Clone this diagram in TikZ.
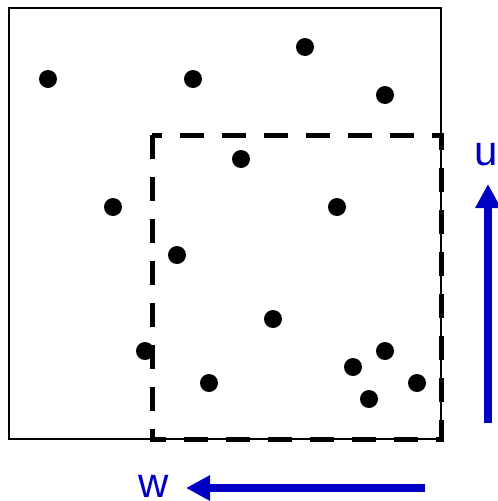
\documentclass[tikz,border=0pt]{standalone}
\usepackage{fontspec}
\setmainfont{Liberation Sans}
\usetikzlibrary{arrows.meta}
\definecolor{arrowblue}{RGB}{0,0,196}
\tikzset{
  dot/.style={circle,fill=black,inner sep=0pt,minimum size=18pt},
  bigarrow/.style={arrowblue,line width=8pt,-{Triangle[length=24pt,width=24pt]}},
  axislabel/.style={text=arrowblue,font=\fontsize{42}{42}\selectfont,inner sep=0pt},
}
\begin{document}
\begin{tikzpicture}[x=1pt,y=-1pt]
\useasboundingbox (0,0) rectangle (498,501);
\draw[line width=2pt] (9,8) rectangle (441,439);
\draw[line width=5pt,dash pattern=on 24pt off 18pt] (152,135) -- (152,439) -- (441,439) -- (441,135) -- cycle;
\foreach \n/\x/\y in {d1/48/79,d2/193/79,d3/305/47,d4/385/95,d5/241/159,d6/113/207,d7/337/207,d8/177/255,d9/273/319,d10/145/351,d11/385/351,d12/209/383,d13/353/367,d14/369/399,d15/417/383}
  \node[dot] (\n) at (\x,\y) {};
\coordinate (ustart) at (488,423);
\coordinate (uend) at (488,184);
\draw[bigarrow] (ustart) -- (uend);
\node[axislabel] (u) at (486,155) {u};
\coordinate (wstart) at (425,488);
\coordinate (wend) at (186,488);
\draw[bigarrow] (wstart) -- (wend);
\node[axislabel] (w) at (154,486) {w};
\end{tikzpicture}
\end{document}
